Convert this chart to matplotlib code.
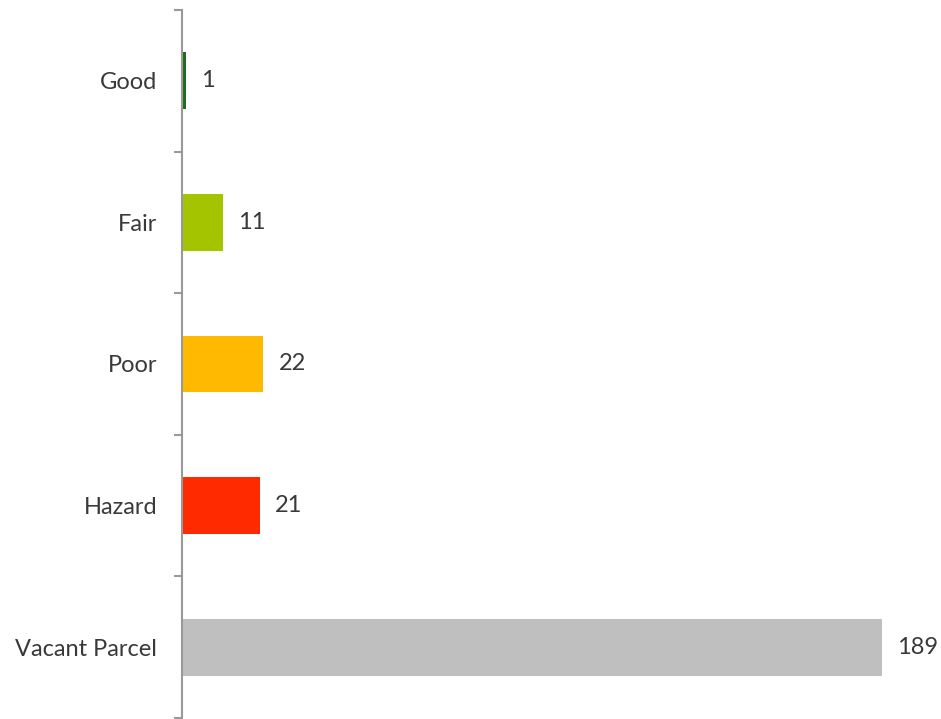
import matplotlib
matplotlib.use("Agg")
import matplotlib.pyplot as plt
from matplotlib.ticker import FixedLocator

categories = ["Good", "Fair", "Poor", "Hazard", "Vacant Parcel"]
values = [1, 11, 22, 21, 189]
colors = ["#1B6E1B", "#A5C400", "#FFBA00", "#FF2A00", "#BFBFBF"]

plt.rcParams['font.family'] = ['Lato', 'DejaVu Sans']
text_color = "#3A3838"

fig = plt.figure(figsize=(9.41, 7.19), dpi=100)
ax = fig.add_axes([182/941, 1/719, (941-182)/941, 708/719])

y = list(range(len(categories)))
ax.barh(y, values, height=0.4, color=colors)
ax.set_ylim(len(categories) - 0.5, -0.5)
ax.set_xlim(0, 759/3.704)

for yi, v in zip(y, values):
    ax.annotate(str(v), (v, yi), xytext=(11, 0), textcoords="offset points",
                ha="left", va="center", fontsize=17, color=text_color,
                annotation_clip=False)

ax.set_yticks(y)
ax.set_yticklabels(categories, fontsize=17, color=text_color)
ax.tick_params(axis="y", which="major", length=0, pad=18)
ax.yaxis.set_minor_locator(FixedLocator([i - 0.5 for i in range(len(categories) + 1)]))
ax.tick_params(axis="y", which="minor", length=6, width=1.5, color="#999999")
ax.set_xticks([])

for s in ["top", "right", "bottom"]:
    ax.spines[s].set_visible(False)
ax.spines["left"].set_color("#999999")
ax.spines["left"].set_linewidth(1.5)

fig.savefig("out.png", dpi=100)
